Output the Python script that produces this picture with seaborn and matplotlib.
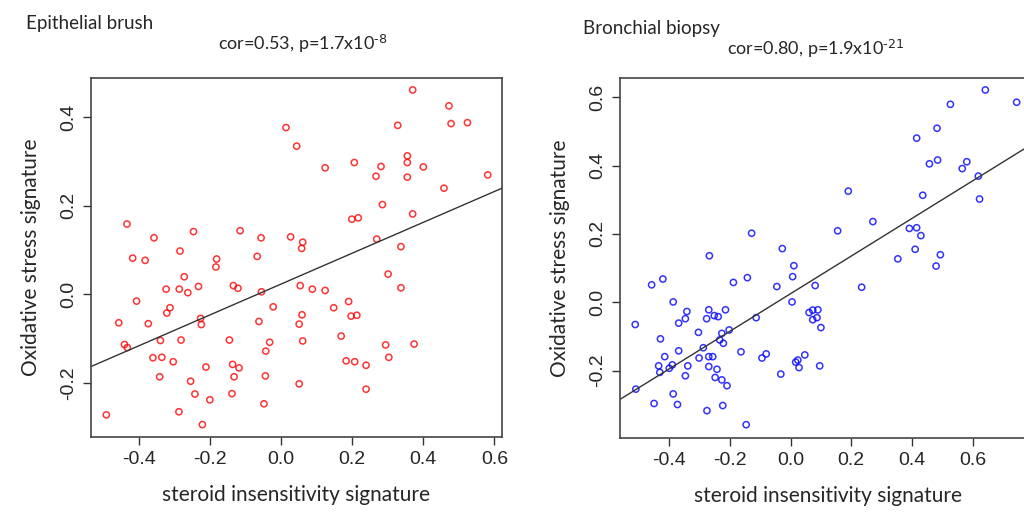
import numpy as np
import pandas as pd
import seaborn as sns
import matplotlib.pyplot as plt

sns.set_style("ticks")
plt.rcParams['font.family'] = ['Liberation Sans', 'DejaVu Sans']
plt.rcParams['mathtext.default'] = 'regular'
plt.rcParams['axes.unicode_minus'] = False

# epithelial brush (red)
brush_x = [0.014, 0.044, -0.433, -0.357, -0.246, -0.115, -0.056, 0.027, -0.284, 0.370,
           0.472, 0.478, 0.524, 0.328, 0.124, 0.206, 0.281, 0.355, 0.355, 0.400,
           0.267, 0.355, 0.581, 0.458, 0.285, 0.199, 0.217, 0.370, 0.061, 0.058,
           0.269, 0.337, -0.417, -0.382, -0.181, -0.183, -0.067, -0.272, -0.323, -0.286,
           -0.262, -0.232, -0.134, -0.121, -0.055, 0.054, -0.406, -0.312, -0.321, -0.022,
           0.059, -0.456, -0.373, -0.226, -0.224, -0.062, 0.051, -0.440, -0.432, -0.339,
           -0.281, -0.145, -0.032, -0.043, -0.360, -0.335, -0.303, -0.211, -0.136, -0.118,
           -0.341, -0.254, -0.132, -0.044, 0.051, -0.242, -0.200, -0.138, -0.048, -0.491,
           -0.287, -0.221, 0.301, 0.337, 0.088, 0.124, 0.190, 0.148, 0.197, 0.213,
           0.061, 0.169, 0.294, 0.374, 0.303, 0.183, 0.207, 0.239, 0.239]
brush_y = [0.377, 0.335, 0.159, 0.128, 0.142, 0.144, 0.128, 0.130, 0.098, 0.462,
           0.426, 0.386, 0.388, 0.382, 0.286, 0.298, 0.289, 0.313, 0.298, 0.288,
           0.267, 0.265, 0.270, 0.240, 0.203, 0.170, 0.173, 0.182, 0.118, 0.104,
           0.125, 0.108, 0.082, 0.077, 0.080, 0.062, 0.086, 0.040, 0.012, 0.012,
           0.004, 0.018, 0.020, 0.014, 0.006, 0.020, -0.015, -0.030, -0.042, -0.028,
           -0.046, -0.064, -0.066, -0.054, -0.068, -0.061, -0.067, -0.113, -0.120, -0.104,
           -0.103, -0.103, -0.108, -0.128, -0.143, -0.142, -0.152, -0.164, -0.158, -0.166,
           -0.186, -0.196, -0.186, -0.184, -0.202, -0.225, -0.238, -0.224, -0.247, -0.272,
           -0.265, -0.294, 0.046, 0.015, 0.012, 0.009, -0.016, -0.030, -0.049, -0.047,
           -0.105, -0.094, -0.114, -0.112, -0.142, -0.150, -0.152, -0.160, -0.214]

# bronchial biopsy (blue)
biopsy_x = [-0.128, -0.267, -0.027, 0.641, 0.744, 0.526, 0.482, 0.415, 0.457, 0.484,
            0.580, 0.565, 0.618, 0.190, 0.435, 0.622, 0.271, 0.155, 0.391, 0.415,
            0.429, 0.410, 0.493, 0.353, 0.479, 0.011, 0.007, -0.045, -0.142, -0.188,
            -0.420, -0.457, 0.005, -0.386, -0.341, -0.269, -0.214, -0.251, -0.238, -0.276,
            -0.346, -0.368, -0.113, -0.511, -0.202, -0.303, -0.226, -0.428, -0.233, -0.221,
            -0.287, -0.368, -0.163, -0.414, -0.269, -0.256, -0.301, -0.080, -0.094, 0.047,
            0.024, 0.017, 0.028, -0.434, -0.389, -0.399, -0.430, -0.338, -0.269, -0.242,
            -0.346, -0.248, -0.226, -0.209, -0.032, -0.509, -0.386, -0.449, -0.372, -0.223,
            -0.275, -0.146, 0.081, 0.234, 0.061, 0.073, 0.090, 0.073, 0.087, 0.100, 0.096]
biopsy_y = [0.202, 0.136, 0.157, 0.621, 0.585, 0.579, 0.509, 0.480, 0.405, 0.416,
            0.411, 0.391, 0.369, 0.325, 0.313, 0.302, 0.236, 0.209, 0.216, 0.218,
            0.195, 0.155, 0.139, 0.127, 0.106, 0.107, 0.075, 0.046, 0.072, 0.058,
            0.068, 0.051, 0.001, 0.001, -0.027, -0.022, -0.022, -0.039, -0.042, -0.048,
            -0.048, -0.061, -0.045, -0.065, -0.081, -0.088, -0.091, -0.107, -0.110, -0.120,
            -0.133, -0.142, -0.145, -0.159, -0.159, -0.159, -0.163, -0.151, -0.163, -0.154,
            -0.169, -0.175, -0.191, -0.186, -0.183, -0.193, -0.205, -0.186, -0.188, -0.196,
            -0.215, -0.220, -0.227, -0.244, -0.210, -0.254, -0.268, -0.296, -0.299, -0.302,
            -0.317, -0.358, 0.049, 0.044, -0.030, -0.023, -0.022, -0.051, -0.045, -0.074, -0.186]

df_brush = pd.DataFrame({'x': brush_x, 'y': brush_y})
df_biopsy = pd.DataFrame({'x': biopsy_x, 'y': biopsy_y})

fig = plt.figure(figsize=(10.24, 5.12), dpi=100)
ax1 = fig.add_axes([0.0889, 0.1465, 0.4013, 0.7012])
ax2 = fig.add_axes([0.6055, 0.1445, 0.4069, 0.7032])

lab_font = ['Lato', 'DejaVu Sans']

panels = [
    (ax1, df_brush, 'red', (-0.534, 0.621), (-0.322, 0.489), [-0.4, -0.2, 0.0, 0.2, 0.4, 0.6], [-0.2, 0.0, 0.2, 0.4]),
    (ax2, df_biopsy, 'blue', (-0.561, 0.81), (-0.397, 0.656), [-0.4, -0.2, 0.0, 0.2, 0.4, 0.6], [-0.2, 0.0, 0.2, 0.4, 0.6]),
]
for ax, d, col, xl, yl, xt, yt in panels:
    ax.set_xlim(*xl)
    ax.set_ylim(*yl)
    sns.regplot(data=d, x='x', y='y', ax=ax, ci=None, truncate=False,
                scatter_kws=dict(s=20, facecolors='none', edgecolors=col, linewidths=1.1),
                line_kws=dict(color='#333333', lw=1.0))
    ax.set_xlim(*xl)
    ax.set_ylim(*yl)
    ax.set_xticks(xt)
    ax.set_yticks(yt)
    ax.set_xticklabels([f'{v:.1f}' for v in xt], fontsize=14)
    ax.set_yticklabels([f'{v:.1f}' for v in yt], fontsize=14, rotation=90, va='center')
    ax.tick_params(length=6, width=1, color='#333333', pad=4)
    for s in ax.spines.values():
        s.set_visible(True)
        s.set_color('#444444')
        s.set_linewidth(1.2)
    ax.set_xlabel('steroid insensitivity signature', fontsize=15, family=lab_font, labelpad=12)
    ax.set_ylabel('Oxidative stress signature', fontsize=15, family=lab_font, labelpad=14)

ax2.spines['right'].set_visible(False)

fig.text(0.025, 0.955, 'Epithelial brush', fontsize=13.5, family=lab_font, va='center')
fig.text(0.296, 0.915, r'cor=0.53, p=1.7x10$^{\text{-8}}$', fontsize=13, family=lab_font,
         va='center', ha='center')
fig.text(0.569, 0.945, 'Bronchial biopsy', fontsize=13.5, family=lab_font, va='center')
fig.text(0.796, 0.905, r'cor=0.80, p=1.9x10$^{\text{-21}}$', fontsize=13, family=lab_font,
         va='center', ha='center')

fig.savefig('out.png', dpi=100)
